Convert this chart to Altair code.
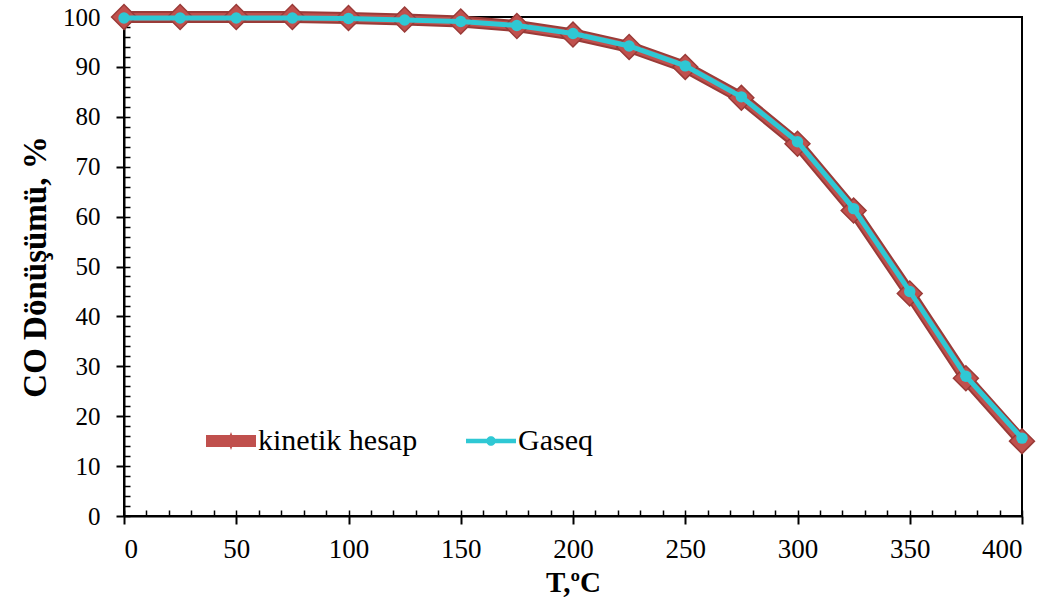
import altair as alt
import pandas as pd

T = [0, 25, 50, 75, 100, 125, 150, 175, 200, 225, 250, 275, 300, 325, 350, 375, 400]
kinetik = [100, 100, 100, 100, 99.8, 99.5, 99.1, 98.2, 96.5, 94.0, 90.0, 83.8, 74.6, 61.2, 44.6, 27.6, 15.0]
gaseq = [99.8, 99.8, 99.8, 99.8, 99.7, 99.4, 99.1, 98.3, 96.7, 94.2, 90.2, 84.0, 75.0, 61.6, 45.0, 28.0, 15.6]
series = ["kinetik hesap", "Gaseq"]

RED = "#C0504D"
RED_DARK = "#9A3B38"
CYAN = "#2FC8D4"
FONT = "Liberation Serif"
W, H = 898, 499

df_k = pd.DataFrame({"T": T, "v": kinetik})
df_g = pd.DataFrame({"T": T, "v": gaseq})
df_leg = pd.DataFrame({"s": series, "T": [0, 0], "v": [0, 0]})

xs = alt.Scale(domain=[0, 400], nice=False)
ys = alt.Scale(domain=[0, 100], nice=False)

x_main = alt.X("T:Q", scale=xs, title="T,ºC",
               axis=alt.Axis(values=list(range(0, 401, 50)), tickSize=8, tickWidth=2,
                             domainWidth=2, domainColor="black", tickColor="black",
                             labelFont=FONT, labelFontSize=27, labelColor="black",
                             labelPadding=12, titleFont=FONT, titleFontSize=29,
                             titleFontWeight="bold", titleColor="black", titlePadding=6,
                             grid=False))
y_main = alt.Y("v:Q", scale=ys, title="CO Dönüşümü, %",
               axis=alt.Axis(values=list(range(0, 101, 10)), tickSize=8, tickWidth=2,
                             domainWidth=2, domainColor="black", tickColor="black",
                             labelFont=FONT, labelFontSize=25, labelColor="black",
                             labelPadding=16, titleFont=FONT, titleFontSize=33,
                             titleFontWeight="bold", titleColor="black", titlePadding=10,
                             grid=False))

# minor tick axes pointing inward
x_minor = alt.X("T:Q", scale=xs, axis=alt.Axis(orient="top", offset=-H, values=list(range(0, 401, 10)),
                                                 tickSize=6, tickWidth=1.5, tickColor="black",
                                                 labels=False, domain=False, grid=False, title=None))
y_minor = alt.Y("v:Q", scale=ys, axis=alt.Axis(orient="right", offset=-W, values=list(range(0, 101, 2)),
                                                 tickSize=6, tickWidth=1.5, tickColor="black",
                                                 labels=False, domain=False, grid=False, title=None))

xn = alt.X("T:Q", scale=xs, axis=None)
yn = alt.Y("v:Q", scale=ys, axis=None)

axes_layer = alt.Chart(df_k).mark_point(opacity=0).encode(x=x_main, y=y_main)
minor_layer = alt.Chart(df_k).mark_point(opacity=0).encode(x=x_minor, y=y_minor)

k_outline = alt.Chart(df_k).mark_line(color=RED_DARK, strokeWidth=12, clip=False).encode(x=xn, y=yn)
k_line = alt.Chart(df_k).mark_line(color=RED, strokeWidth=8, clip=False).encode(x=xn, y=yn)
k_pts = alt.Chart(df_k).mark_point(shape="diamond", filled=True, fill=RED, stroke=RED_DARK,
                                   strokeWidth=1.5, size=620, opacity=1, clip=False).encode(x=xn, y=yn)
g_line = alt.Chart(df_g).mark_line(color=CYAN, strokeWidth=5, clip=False).encode(x=xn, y=yn)
g_pts = alt.Chart(df_g).mark_point(shape="circle", filled=True, color=CYAN, size=130,
                                   opacity=1, clip=False).encode(x=xn, y=yn)

k_path = ("M-1,-0.24L1,-0.24L1,0.24L-1,0.24Z "
          "M0,-0.36L0.14,0L0,0.36L-0.14,0Z")
g_path = ("M-1,-0.09L1,-0.09L1,0.09L-1,0.09Z "
          "M-0.19,0A0.19,0.19 0 1,1 0.19,0A0.19,0.19 0 1,1 -0.19,0Z")

leg = alt.Legend(title=None, orient="none", legendX=82, legendY=399,
                 direction="horizontal", columns=2, symbolSize=2500,
                 symbolStrokeWidth=0, symbolOpacity=1, columnPadding=48,
                 labelFont=FONT, labelFontSize=30, labelColor="black",
                 labelOffset=2, labelLimit=400)

legend_layer = alt.Chart(df_leg).mark_point(filled=True, opacity=1).encode(
    x=xn, y=yn,
    color=alt.Color("s:N", scale=alt.Scale(domain=series, range=[RED, CYAN]), legend=leg),
    shape=alt.Shape("s:N", scale=alt.Scale(domain=series, range=[k_path, g_path]), legend=leg),
).transform_filter("false")

chart = alt.layer(axes_layer, minor_layer, k_outline, k_line, k_pts, g_line, g_pts, legend_layer).resolve_axis(
    x="independent", y="independent"
).properties(
    width=W, height=H,
    autosize=alt.AutoSizeParams(type="none"),
    padding={"left": 124, "top": 17, "right": 28, "bottom": 98},
    background="white",
).configure_view(stroke="black", strokeWidth=2)

chart.save("out.html", embed_options={"renderer": "svg", "actions": False})
